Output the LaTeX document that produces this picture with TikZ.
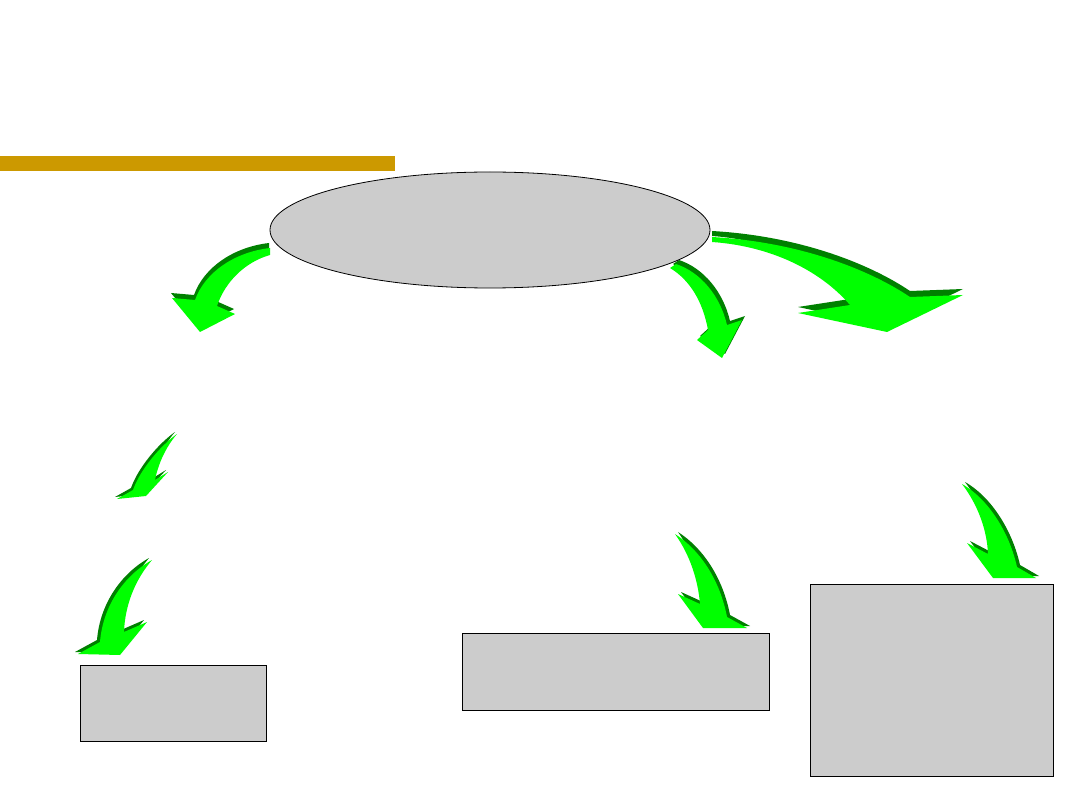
\documentclass[tikz,border=0pt]{standalone}
\usetikzlibrary{shapes.geometric}
\definecolor{goldbar}{RGB}{204,153,0}
\definecolor{boxgray}{RGB}{204,204,204}
\definecolor{lightg}{RGB}{0,255,0}
\definecolor{darkg}{RGB}{0,128,0}
\tikzset{
  graybox/.style={draw=black, line width=1pt, fill=boxgray, inner sep=0pt, minimum width=#1},
  hubshape/.style={draw=black, line width=0.8pt, fill=boxgray, ellipse, inner sep=0pt},
}
\newcommand\greenarrow[2]{\fill[darkg,shift={#1}] #2; \fill[lightg] #2;}
\begin{document}
\begin{tikzpicture}[x=1pt,y=-1pt]
\useasboundingbox (0,0) rectangle (1080,810);
\fill[white] (0,0) rectangle (1080,810);
% gold bar
\fill[goldbar] (0,156) rectangle (395,171);
% arrows from hub
\greenarrow{(-1,-5)}{(270,248) .. controls (235,252) and (205,272) .. (195,300) -- (172,298) -- (200,332) -- (235,314) -- (217,306) .. controls (225,282) and (245,262) .. (270,255) -- cycle}
\greenarrow{(3,-4)}{(670,268) .. controls (690,280) and (703,302) .. (708,330) -- (697,340) -- (722,358) -- (742,320) -- (727,325) .. controls (720,295) and (700,272) .. (676,264) -- cycle}
\greenarrow{(0,-6)}{(712,242) .. controls (770,246) and (820,270) .. (850,305) -- (798,313) -- (887,332) -- (963,295) -- (910,297) .. controls (870,270) and (800,242) .. (712,237) -- cycle}
% hub
\node[hubshape, minimum width=440pt, minimum height=116pt] (hub) at (490,230) {};
% lower arrows
\greenarrow{(-2,-2)}{(177,434) .. controls (160,446) and (140,470) .. (133,490) -- (117,499) -- (146,496) -- (168,472) -- (155,480) .. controls (158,465) and (165,448) .. (177,434) -- cycle}
\greenarrow{(-3,-2)}{(152,560) .. controls (125,575) and (103,605) .. (100,642) -- (78,654) -- (120,655) -- (147,622) -- (124,632) .. controls (125,605) and (135,580) .. (152,560) -- cycle}
\greenarrow{(3,-2)}{(675,534) .. controls (700,550) and (720,580) .. (727,617) -- (747,628) -- (703,628) -- (678,594) -- (700,604) .. controls (698,580) and (690,555) .. (675,534) -- cycle}
\greenarrow{(3,-2)}{(962,484) .. controls (990,500) and (1010,535) .. (1017,567) -- (1036,578) -- (993,578) -- (967,543) -- (988,554) .. controls (987,530) and (978,505) .. (962,484) -- cycle}
% boxes
\node[graybox=186pt, minimum height=76pt] (boxa) at (173,703) {};
\node[graybox=307pt, minimum height=77pt] (boxb) at (615.5,671.5) {};
\node[graybox=243pt, minimum height=192pt] (boxc) at (931.5,680) {};
\end{tikzpicture}
\end{document}
